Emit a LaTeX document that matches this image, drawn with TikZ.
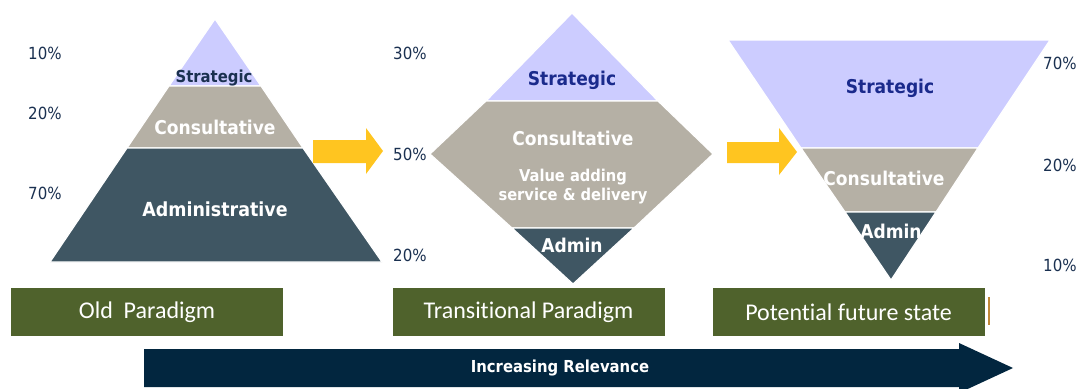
\documentclass[tikz,border=0pt]{standalone}
\usepackage{fontspec}
\setmainfont{DejaVu Sans Condensed}
\newfontfamily\calfont[Ligatures=NoCommon]{Carlito}
\definecolor{strat}{HTML}{CCCCFF}
\definecolor{consult}{HTML}{B5B0A5}
\definecolor{admin}{HTML}{3F5663}
\definecolor{navy}{HTML}{1A3050}
\definecolor{stratblue}{HTML}{1A2A8C}
\definecolor{olive}{HTML}{4F622C}
\definecolor{gold}{HTML}{FFC520}
\definecolor{deepblue}{HTML}{02263F}
\definecolor{rust}{HTML}{C08838}
\begin{document}
\begin{tikzpicture}[x=1pt,y=-1pt,
    band/.style={draw=white,line width=1.2pt,line join=round},
    bandtext/.style={font=\bfseries\fontsize{19}{20}\selectfont,text=white,inner sep=0pt},
    pct/.style={font=\fontsize{16.7}{18}\selectfont,text=navy,anchor=west,inner sep=0pt},
    paradigm/.style={fill=olive,text=white,font=\calfont\fontsize{24}{26}\selectfont,
      minimum width=272pt,minimum height=48pt,inner sep=0pt}]
  \clip (0,0) rectangle (1078,388);

  % old paradigm
  \fill[band,fill=strat] (215,19)--(261,86)--(169,86)--cycle;
  \fill[band,fill=consult] (169,86)--(261,86)--(303,148)--(127,148)--cycle;
  \fill[band,fill=admin] (127,148)--(303,148)--(382,262)--(50,262)--cycle;
  \node[bandtext,text=navy,font=\bfseries\fontsize{16.5}{18}\selectfont] (strat1) at (214,78) {Strategic};
  \node[bandtext] (consult1) at (215,127) {Consultative};
  \node[bandtext,font=\bfseries\fontsize{19.4}{20}\selectfont] (admin1) at (215,209) {Administrative};
  \node[pct] (p1a) at (28,53) {10\%};
  \node[pct] (p1b) at (28,113) {20\%};
  \node[pct] (p1c) at (28,193) {70\%};

  \fill[gold] (313,140)--(366,140)--(366,128)--(383,151)--(366,174)--(366,163)--(313,163)--cycle;

  % transitional paradigm
  \fill[band,fill=strat] (572,13)--(658,101)--(486,101)--cycle;
  \fill[band,fill=consult] (486,101)--(658,101)--(713,154)--(634,228)--(512,228)--(430,154)--cycle;
  \fill[band,fill=admin] (512,228)--(634,228)--(573,284)--cycle;
  \node[bandtext,text=stratblue] (strat2) at (572,80) {Strategic};
  \node[bandtext] (consult2) at (573,138) {Consultative};
  \node[bandtext,align=center,font=\bfseries\fontsize{16.3}{19}\selectfont] (value2) at (573,187)
    {Value adding\\service \& delivery};
  \node[bandtext] (admin2) at (572,245) {Admin};
  \node[pct] (p2a) at (393,53) {30\%};
  \node[pct] (p2b) at (393,154) {50\%};
  \node[pct] (p2c) at (393,255) {20\%};

  \fill[gold] (727,142)--(779,142)--(779,128)--(797,152)--(779,175)--(779,163)--(727,163)--cycle;

  % future state
  \fill[band,fill=strat] (728,40)--(1050,40)--(978,148)--(801,148)--cycle;
  \fill[band,fill=consult] (801,148)--(978,148)--(936,212)--(845,212)--cycle;
  \fill[band,fill=admin] (845,212)--(936,212)--(891,280)--cycle;
  \node[bandtext,text=stratblue] (strat3) at (890,88) {Strategic};
  \node[bandtext] (consult3) at (884,178) {Consultative};
  \node[bandtext] (admin3) at (891,231) {Admin};
  \node[pct] (p3a) at (1043,63) {70\%};
  \node[pct] (p3b) at (1043,165) {20\%};
  \node[pct] (p3c) at (1043,265) {10\%};

  % labels and relevance arrow
  \node[paradigm] (old) at (147,312) {Old\ \ Paradigm};
  \node[paradigm] (trans) at (528.5,312) {Transitional Paradigm};
  \node[paradigm] (future) at (848.5,312) {Potential future state};
  \fill[rust] (988,297) rectangle (990,325);
  \fill[deepblue] (144,349)--(959,349)--(959,343)--(1013,368)--(959,393)--(959,387)--(144,387)--cycle;
  \node[text=white,font=\bfseries\fontsize{16.5}{18}\selectfont] (relev) at (560,368) {Increasing Relevance};
\end{tikzpicture}
\end{document}
